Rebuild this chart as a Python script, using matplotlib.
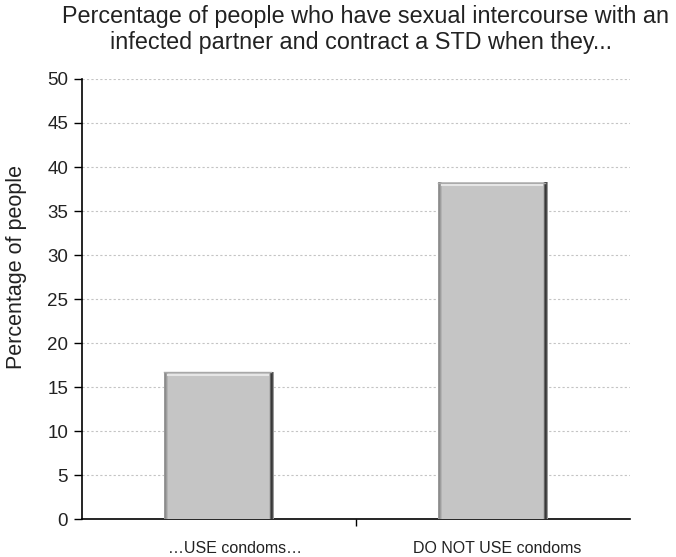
import matplotlib.pyplot as plt
import numpy as np

plt.rcParams['font.family'] = ['Liberation Sans', 'DejaVu Sans']

categories = ['\u2026USE condoms\u2026', 'DO NOT USE condoms']
values = [16.7, 38.2]
yticks = list(range(0, 51, 5))

fig = plt.figure(figsize=(6.76, 5.57), dpi=100)
ax = fig.add_axes([82 / 676, 1 - 519 / 557, 548 / 676, 440 / 557])

x = np.arange(len(categories))
width = 0.4
bars = ax.bar(x, values, width=width, color='#c4c4c4', zorder=2)

# shading across each bar: grey left rim, flat body, dark right rim
shade = np.array([0.6, 0.55, 0.62, 0.7] + [0.77] * 101 + [0.7, 0.4, 0.22, 0.3, 0.6])
grad = np.tile(shade, (2, 1))
for b in bars:
    x0, y0 = b.get_x(), b.get_y()
    ax.imshow(grad, cmap='gray', vmin=0, vmax=1, aspect='auto',
              extent=(x0, x0 + b.get_width(), y0, y0 + b.get_height()),
              interpolation='nearest', zorder=3)
    # bevelled highlight along the top
    top = b.get_height()
    ax.plot([x0, x0 + b.get_width() - 0.012], [top - 0.05] * 2,
            color='#a8a8a8', lw=1.0, zorder=4)
    ax.plot([x0 + 0.015, x0 + b.get_width() - 0.02], [top - 0.3] * 2,
            color='#e6e6e6', lw=1.5, zorder=4)

ax.set_xlim(-0.5, 1.5)
ax.set_ylim(0, 50)
ax.set_yticks(yticks)
ax.tick_params(axis='y', labelsize=13.5, direction='out', length=6, width=1,
               pad=4, labelcolor='#222222')
ax.set_xticks([0.5])
ax.set_xticklabels([''])
ax.tick_params(axis='x', direction='out', length=5, width=1)
label_shift = [0.06, 0.015]
for xi, lab, dx in zip(x, categories, label_shift):
    ax.text(xi + dx, -2.5, lab, ha='center', va='top', fontsize=11.5, color='#222222')

ax.yaxis.grid(True, linestyle=(0, (2, 2)), color='#c4c4c4', lw=0.8, zorder=0)
for s in ['top', 'right']:
    ax.spines[s].set_visible(False)
ax.spines['left'].set_linewidth(1.2)
ax.spines['bottom'].set_linewidth(1.2)

ax.set_ylabel('Percentage of people', fontsize=15.5, color='#222222')
ax.yaxis.set_label_coords(-(82 - 27) / 548, (519 - 267) / 440)

fig.text(365 / 676, 1 - 16 / 557, 'Percentage of people who have sexual intercourse with an',
         ha='center', va='center', fontsize=16.8, color='#222222')
fig.text(361 / 676, 1 - 43 / 557, 'infected partner and contract a STD when they...',
         ha='center', va='center', fontsize=16.8, color='#222222')

fig.savefig('out.png', dpi=100)
